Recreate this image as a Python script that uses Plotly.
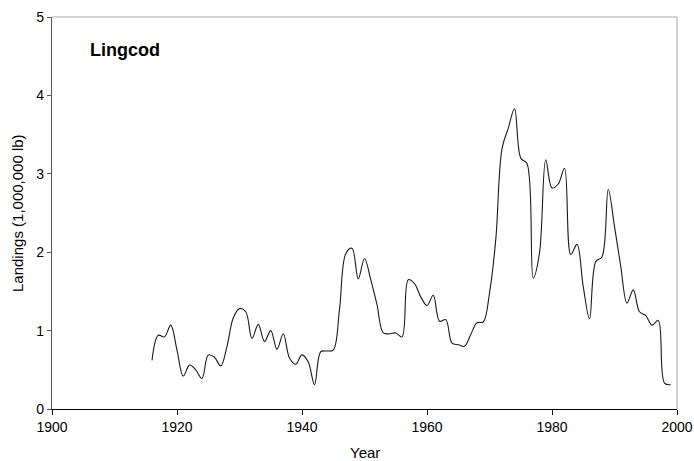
import plotly.graph_objects as go

# Lingcod landings, millions of pounds
years = list(range(1916, 2000))
landings = [
    0.62, 0.94, 0.92, 1.07, 0.75, 0.42, 0.56, 0.50, 0.39, 0.69,  # 1916-1925
    0.66, 0.55, 0.80, 1.16, 1.28, 1.24, 0.90, 1.08, 0.86, 1.00,  # 1926-1935
    0.76, 0.96, 0.65, 0.57, 0.69, 0.60, 0.31, 0.73, 0.74, 0.75,  # 1936-1945
    1.27, 1.98, 2.05, 1.66, 1.92, 1.65, 1.33, 0.97, 0.96, 0.97,  # 1946-1955
    0.92, 1.65, 1.60, 1.43, 1.32, 1.45, 1.12, 1.14, 0.84, 0.82,  # 1956-1965
    0.80, 0.95, 1.10, 1.11, 1.48, 2.16, 3.32, 3.58, 3.83, 3.20,  # 1966-1975
    3.13, 1.67, 1.99, 3.18, 2.82, 2.87, 3.07, 1.97, 2.10, 1.56,  # 1976-1985
    1.15, 1.88, 1.94, 2.80, 2.33, 1.82, 1.35, 1.52, 1.24, 1.19,  # 1986-1995
    1.07, 1.13, 0.33, 0.31,                                      # 1996-1999
]

x_ticks = [1900, 1920, 1940, 1960, 1980, 2000]
y_ticks = [0, 1, 2, 3, 4, 5]

font_family = "Liberation Sans, Arial, sans-serif"

fig = go.Figure()
fig.add_trace(go.Scatter(
    x=years, y=landings, mode="lines",
    line=dict(color="#1a1a1a", width=1.1, shape="spline", smoothing=1.0),
    hovertemplate="Year: %{x}<br>Landings: %{y}<extra></extra>",
))

# gray frame on top and right, like the Excel original
fig.add_shape(type="line", xref="paper", yref="paper", x0=0, x1=1, y0=1, y1=1,
              line=dict(color="#a6a6a6", width=1))
fig.add_shape(type="line", xref="paper", yref="paper", x0=1, x1=1, y0=0, y1=1,
              line=dict(color="#a6a6a6", width=1))

# panel label and axis titles
fig.add_annotation(text="<b>Lingcod</b>", xref="paper", yref="paper",
                   x=0.058, y=0.915, xanchor="left", yanchor="middle",
                   showarrow=False, font=dict(size=18, color="black", family=font_family))
fig.add_annotation(text="Year", xref="paper", yref="paper",
                   x=0.5, y=-0.111, xanchor="center", yanchor="middle",
                   showarrow=False, font=dict(size=15, color="black", family=font_family))
fig.add_annotation(text="Landings (1,000,000 lb)", xref="paper", yref="paper",
                   x=-0.056, y=0.5, xanchor="center", yanchor="middle", textangle=-90,
                   showarrow=False, font=dict(size=15, color="black", family=font_family))

fig.update_layout(
    width=694, height=461,
    margin=dict(l=52, r=17, t=17, b=52),
    paper_bgcolor="white", plot_bgcolor="white",
    showlegend=False,
    font=dict(family=font_family, color="black", size=14),
    xaxis=dict(
        range=[1900, 2000], tickvals=x_ticks, ticks="outside", ticklen=5,
        tickcolor="black", showline=True, linecolor="black", linewidth=1.2,
        showgrid=False, zeroline=False, tickfont=dict(size=14), automargin=False,
    ),
    yaxis=dict(
        range=[0, 5], tickvals=y_ticks, ticks="outside", ticklen=4,
        tickcolor="#555", showline=True, linecolor="#555", linewidth=1.2,
        showgrid=False, zeroline=False, tickfont=dict(size=14), automargin=False,
    ),
)

# drop the default page margin so the figure fills the window exactly
fig.write_html("out.html",
               config={"displayModeBar": False},
               post_script="document.body.style.margin='0';document.body.style.overflow='hidden';")
